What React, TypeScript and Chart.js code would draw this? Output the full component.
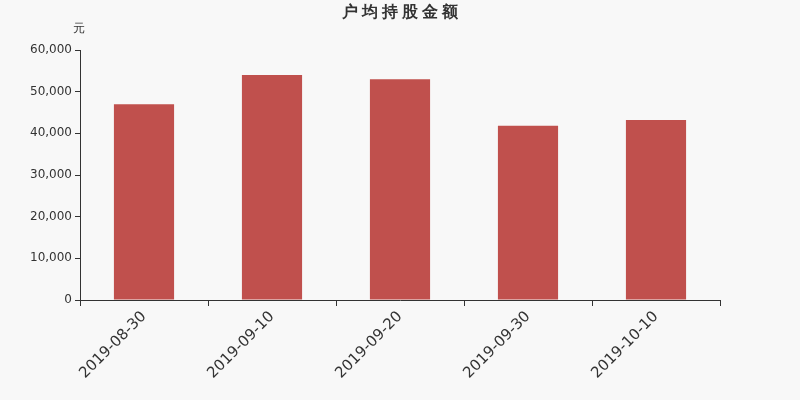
import { useEffect, useRef } from "react"
import { Chart, registerables, type Plugin } from "chart.js"

Chart.register(...registerables)

const dates = ["2019-08-30", "2019-09-10", "2019-09-20", "2019-09-30", "2019-10-10"]
const avgHolding = [47000, 54000, 53000, 41800, 43200]
const yTicks = [0, 10000, 20000, 30000, 40000, 50000, 60000]

const FONT = "'DejaVu Sans', sans-serif"

// background, title and unit label
const decor: Plugin<"bar"> = {
  id: "decor",
  beforeDraw(chart) {
    const { ctx, width, height } = chart
    ctx.save()
    ctx.fillStyle = "#f8f8f8"
    ctx.fillRect(0, 0, width, height)
    ctx.restore()
  },
  afterDraw(chart) {
    const { ctx } = chart
    ctx.save()
    ctx.fillStyle = "#333"
    ctx.textAlign = "center"
    ctx.textBaseline = "middle"
    ctx.font = `bold 16px ${FONT}`
    ;(ctx as any).letterSpacing = "4px"
    ctx.fillText("户均持股金额", 402, 13)
    ;(ctx as any).letterSpacing = "0px"
    ctx.font = `12px ${FONT}`
    ctx.fillText("元", 79, 29)
    ctx.restore()
  },
}

export default function App() {
  const canvasRef = useRef<HTMLCanvasElement>(null)

  useEffect(() => {
    if (!canvasRef.current) return
    document.body.style.margin = "0"

    const chart = new Chart(canvasRef.current, {
      type: "bar",
      data: {
        labels: dates,
        datasets: [
          {
            data: avgHolding,
            backgroundColor: "#c0504d",
            barPercentage: 0.47,
            categoryPercentage: 1,
          },
        ],
      },
      options: {
        animation: false,
        responsive: false,
        maintainAspectRatio: false,
        layout: { padding: { top: 50, right: 80, left: 0, bottom: 0 } },
        plugins: {
          legend: { display: false },
          title: { display: false },
          tooltip: { enabled: false },
        },
        scales: {
          x: {
            offset: true,
            grid: {
              offset: true,
              drawOnChartArea: false,
              drawTicks: true,
              tickLength: 6,
              color: "#333",
            },
            border: { color: "#333" },
            ticks: {
              color: "#333",
              font: { family: FONT, size: 15 },
              minRotation: 45,
              maxRotation: 45,
              padding: 2,
            },
            afterFit(scale) {
              scale.height = 100
            },
          },
          y: {
            min: 0,
            max: 60000,
            afterBuildTicks(scale) {
              scale.ticks = yTicks.map((v) => ({ value: v }))
            },
            grid: {
              drawOnChartArea: false,
              drawTicks: true,
              tickLength: 5,
              color: "#333",
            },
            border: { color: "#333" },
            ticks: {
              color: "#333",
              font: { family: FONT, size: 12 },
              padding: 3,
              callback: (v) => Number(v).toLocaleString("en-US"),
            },
            afterFit(scale) {
              scale.width = 80
            },
          },
        },
      },
      plugins: [decor],
    })

    return () => {
      chart.destroy()
    }
  }, [])

  return (
    <div style={{ width: 800, height: 400 }}>
      <canvas ref={canvasRef} width={800} height={400}></canvas>
    </div>
  )
}
